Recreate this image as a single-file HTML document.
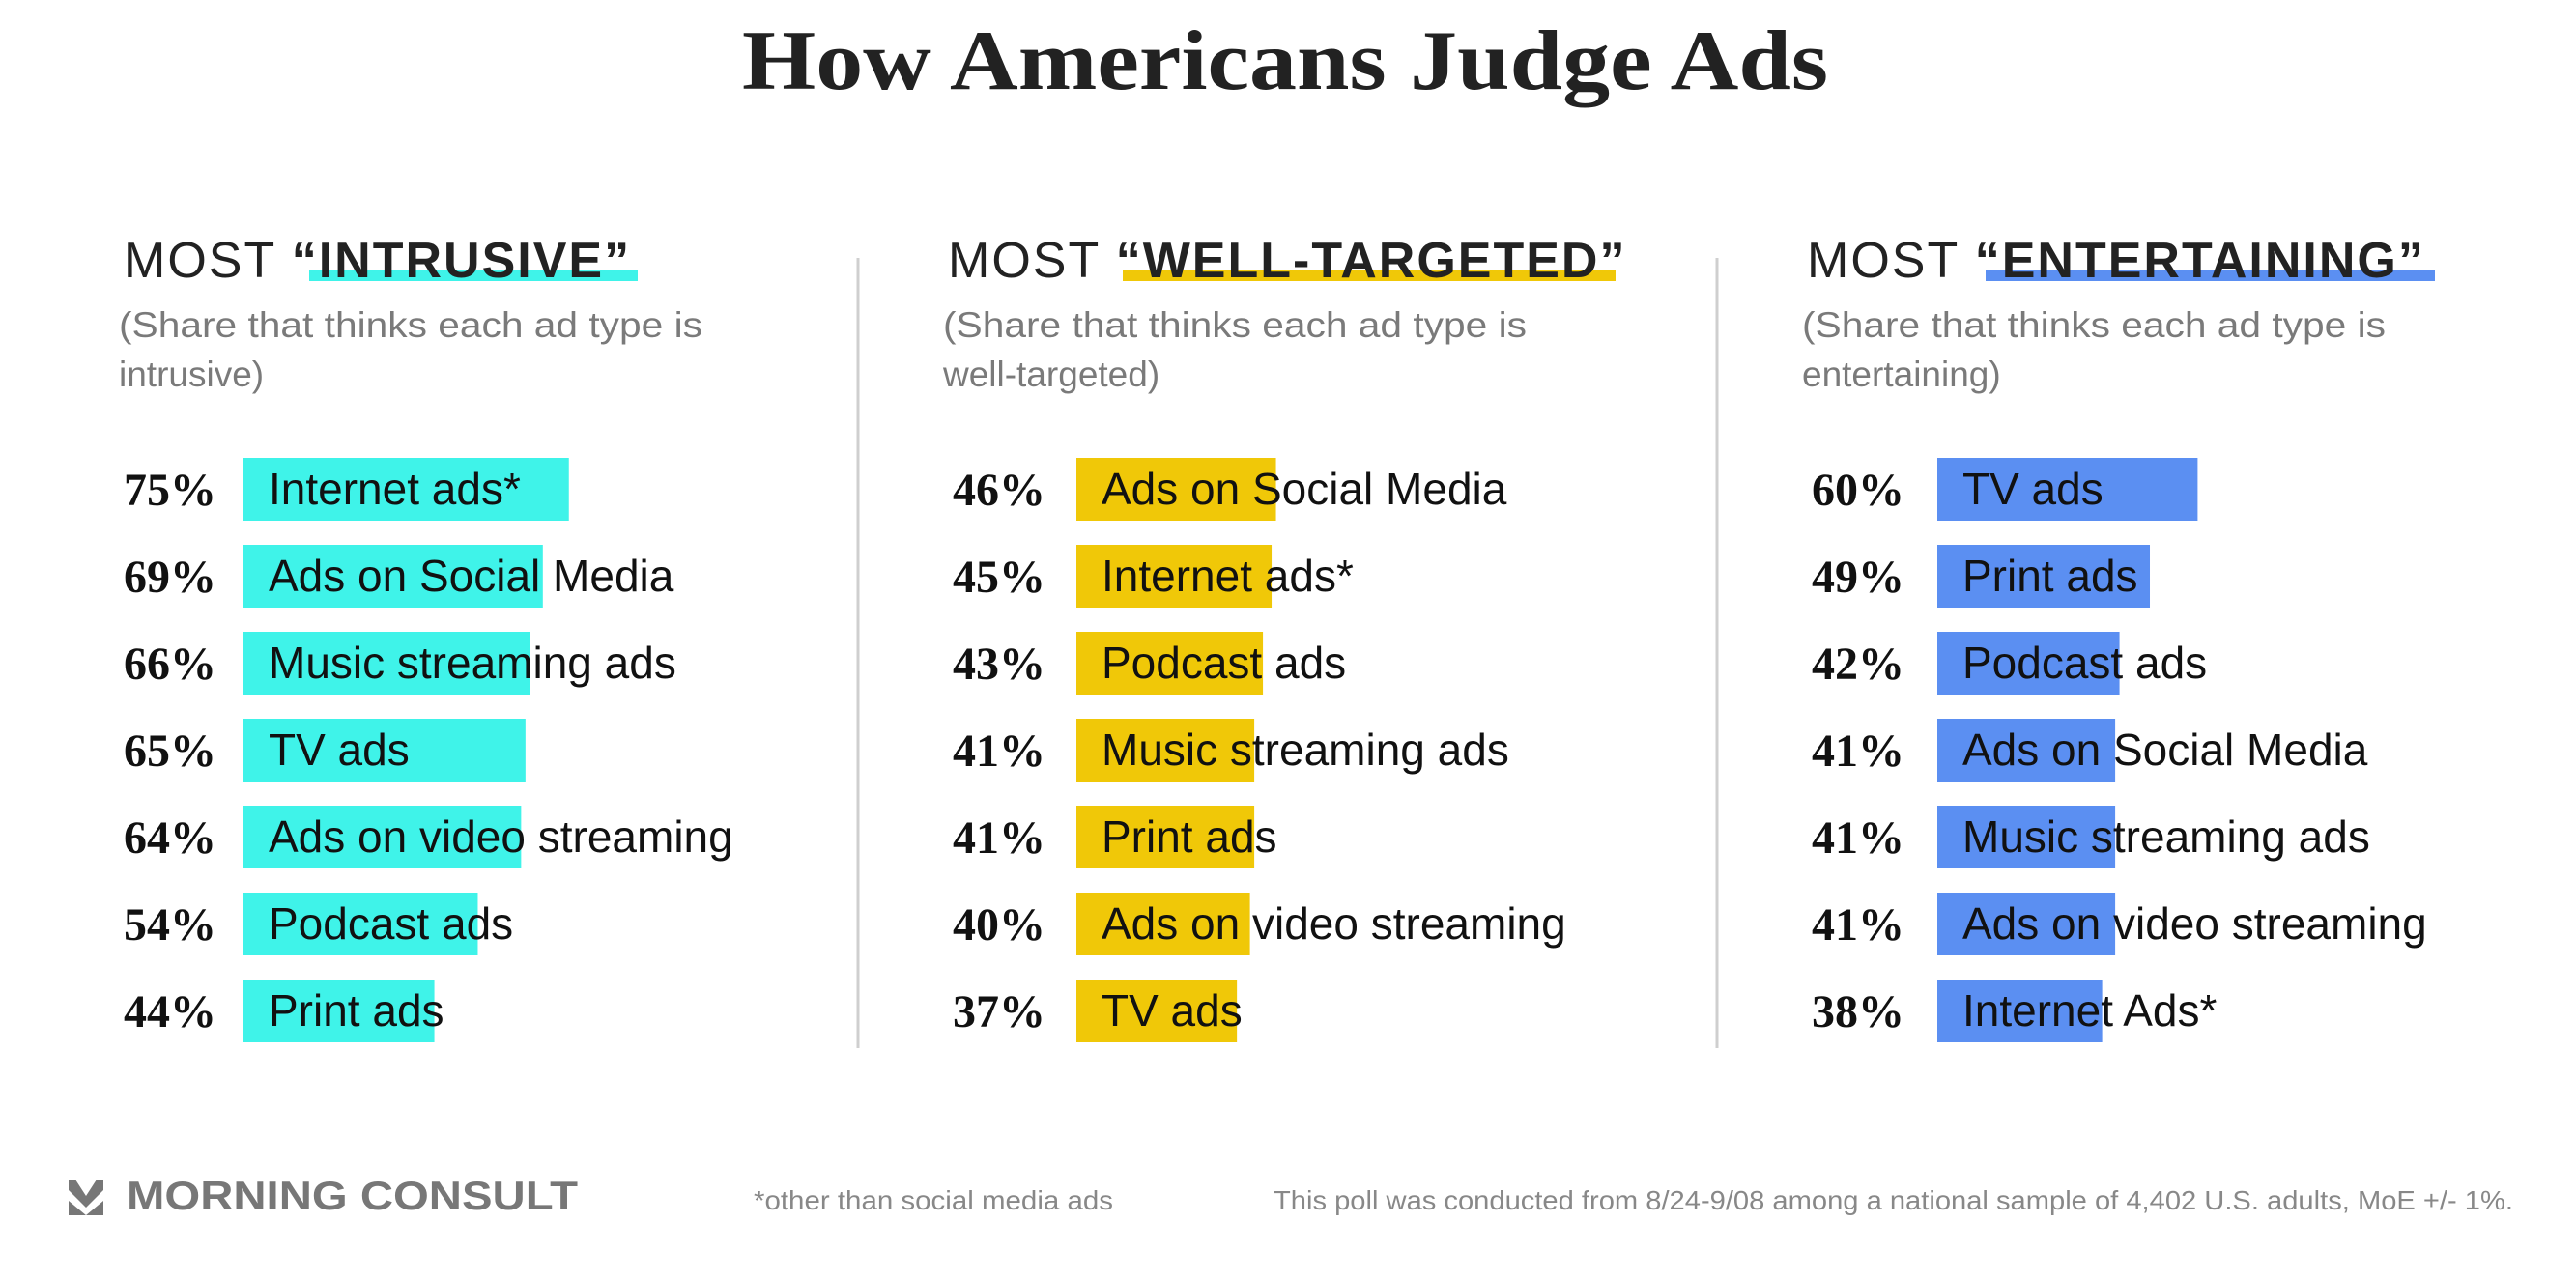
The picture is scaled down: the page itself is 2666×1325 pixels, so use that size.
<!DOCTYPE html>
<html><head><meta charset="utf-8"><style>
html,body{margin:0;padding:0;background:#fff;}
svg{display:block;}
</style></head><body>
<svg id="chart" width="2666" height="1325" viewBox="0 0 2666 1325" xmlns="http://www.w3.org/2000/svg">
<text x="1330" y="92" text-anchor="middle" font-family="Liberation Serif, serif" font-weight="bold" font-size="88" fill="#222" textLength="1124" lengthAdjust="spacingAndGlyphs">How Americans Judge Ads</text>
<line x1="888" y1="267" x2="888" y2="1085" stroke="#cfcfcf" stroke-width="3"/>
<line x1="1777" y1="267" x2="1777" y2="1085" stroke="#cfcfcf" stroke-width="3"/>
<g id="cols"></g>
<g>
<g fill="#777">
<polygon points="71,1221 78,1221 89,1238 100,1221 107,1221 107,1232 89,1250 71,1232"/>
<polygon points="71,1243 89,1258 71,1258"/>
<polygon points="107,1243 107,1258 89,1258"/>
</g>
<text x="131" y="1252" font-family="Liberation Sans, sans-serif" font-weight="bold" font-size="42" fill="#777" textLength="467" lengthAdjust="spacingAndGlyphs">MORNING CONSULT</text>
<text x="780" y="1252" font-family="Liberation Sans, sans-serif" font-size="28" fill="#888" textLength="372" lengthAdjust="spacingAndGlyphs">*other than social media ads</text>
<text x="1318" y="1252" font-family="Liberation Sans, sans-serif" font-size="28" fill="#888" textLength="1283" lengthAdjust="spacingAndGlyphs">This poll was conducted from 8/24-9/08 among a national sample of 4,402 U.S. adults, MoE +/- 1%.</text>
</g>
</svg>
<script>
const titles = ["INTRUSIVE", "WELL-TARGETED", "ENTERTAINING"];
const subtitles = ["intrusive)", "well-targeted)", "entertaining)"];
const colors = ["#3ff3e9", "#f0c808", "#5b8ff2"];
const labels1 = ["Internet ads*", "Ads on Social Media", "Music streaming ads", "TV ads", "Ads on video streaming", "Podcast ads", "Print ads"];
const values1 = [75, 69, 66, 65, 64, 54, 44];
const labels2 = ["Ads on Social Media", "Internet ads*", "Podcast ads", "Music streaming ads", "Print ads", "Ads on video streaming", "TV ads"];
const values2 = [46, 45, 43, 41, 41, 40, 37];
const labels3 = ["TV ads", "Print ads", "Podcast ads", "Ads on Social Media", "Music streaming ads", "Ads on video streaming", "Internet Ads*"];
const values3 = [60, 49, 42, 41, 41, 41, 38];

const NS = "http://www.w3.org/2000/svg";
const colX = [128, 981, 1870];
const pctX = [128, 986, 1875];
const barX = [252, 1114, 2005];
const hlX = [320, 1162, 2055];
const hlW = [340, 510, 465];
const pxPer = 4.49;
const xScale = v => v * pxPer;
const yRow = i => 474 + i * 90;
const allLabels = [labels1, labels2, labels3];
const allValues = [values1, values2, values3];
const g = document.getElementById("cols");
function mk(tag, attrs, text) {
  const e = document.createElementNS(NS, tag);
  for (const k in attrs) e.setAttribute(k, attrs[k]);
  if (text !== undefined) e.textContent = text;
  return e;
}
for (let c = 0; c < 3; c++) {
  const col = mk("g", {});
  
  
  const hl = mk("rect", {x: hlX[c], y: 280, width: hlW[c], height: 11, fill: colors[c]});
  
  
  col.appendChild(hl);
  const h = mk("text", {x: colX[c], y: 287, "font-family": "Liberation Sans, sans-serif", "font-size": "52", fill: "#222", "letter-spacing": "2"});
  
  
  const t1 = mk("tspan", {}, "MOST ");
  const t2 = mk("tspan", {"font-weight": "bold"}, "\u201C" + titles[c] + "\u201D");
  h.appendChild(t1); h.appendChild(t2);
  col.appendChild(h);
  const s1 = mk("text", {x: colX[c] - 5, y: 349, "font-family": "Liberation Sans, sans-serif", "font-size": "37", fill: "#7a7a7a", textLength: 604, lengthAdjust: "spacingAndGlyphs"}, "(Share that thinks each ad type is");
  
  
  col.appendChild(s1);
  const s2 = mk("text", {x: colX[c] - 5, y: 400, "font-family": "Liberation Sans, sans-serif", "font-size": "37", fill: "#7a7a7a"}, subtitles[c]);
  
  
  col.appendChild(s2);
  const labs = allLabels[c], vals = allValues[c];
  for (let i = 0; i < vals.length; i++) {
    const y = yRow(i);
    const bar = mk("rect", {x: barX[c], y: y, width: xScale(vals[i]), height: 65, fill: colors[c]});
    
    
    col.appendChild(bar);
    const p = mk("text", {x: pctX[c], y: y + 49, "font-family": "Liberation Serif, serif", "font-weight": "bold", "font-size": "48", fill: "#111"}, vals[i] + "%");
    
    
    col.appendChild(p);
    const l = mk("text", {x: barX[c] + 26, y: y + 48, "font-family": "Liberation Sans, sans-serif", "font-size": "46", fill: "#111"}, labs[i]);
    
    
    col.appendChild(l);
  }
  g.appendChild(col);
}
</script>
</body></html>
